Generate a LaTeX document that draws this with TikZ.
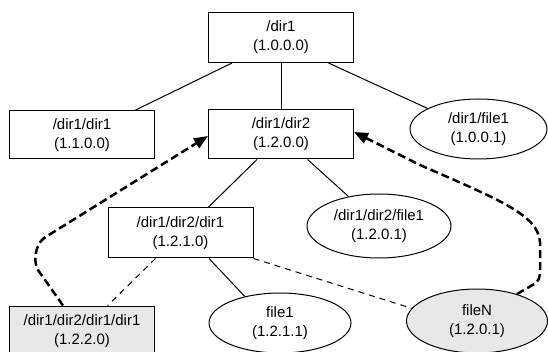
\documentclass[tikz,border=0pt]{standalone}
\usepackage{fontspec}
\setmainfont{Liberation Sans}
\usetikzlibrary{arrows.meta,shapes.geometric}
\definecolor{fillgray}{RGB}{232,232,232}
\begin{document}
\begin{tikzpicture}[x=1pt,y=-1pt,
  every node/.style={font=\fontsize{15}{19}\selectfont, align=center, inner sep=0pt, line width=1pt},
  dirbox/.style={draw, rectangle, minimum width=145pt, minimum height=#1},
  dirbox/.default=50pt,
  filell/.style 2 args={draw, ellipse, minimum width=#1, minimum height=#2},
  tree/.style={line width=1pt},
  link/.style={line width=1pt, dash pattern=on 6pt off 5pt},
  jump/.style={line width=2.5pt, dash pattern=on 8pt off 4pt, -{Triangle[length=14pt,width=11pt]}}
]
\useasboundingbox (0,0) rectangle (548,352);
\clip (0,0) rectangle (548,352);

\node[dirbox] (n1) at (281,37.5) {/dir1\\(1.0.0.0)};
\node[dirbox=48pt] (n11) at (82,135) {/dir1/dir1\\(1.1.0.0)};
\node[dirbox=49pt] (n12) at (281,134.5) {/dir1/dir2\\(1.2.0.0)};
\node[filell={137pt}{60pt}] (f1) at (478.5,129) {/dir1/file1\\(1.0.0.1)};
\node[dirbox] (n121) at (180.5,233) {/dir1/dir2/dir1\\(1.2.1.0)};
\node[filell={144pt}{64pt}] (f121) at (379,226) {/dir1/dir2/file1\\(1.2.0.1)};
\node[dirbox, fill=fillgray] (n122) at (82,331) {/dir1/dir2/dir1/dir1\\(1.2.2.0)};
\node[filell={142pt}{60pt}] (file1) at (280,323) {file1\\(1.2.1.1)};
\node[filell={141pt}{64pt}, fill=fillgray] (fileN) at (477,321) {fileN\\(1.2.0.1)};

\draw[tree] ([xshift=-49pt]n1.south) -- ([xshift=52.6pt]n11.north);
\draw[tree] (n1) -- (n12);
\draw[tree] ([xshift=47.5pt]n1.south) -- (f1.158);
\draw[tree] ([xshift=-24pt]n12.south) -- ([xshift=27.5pt]n121.north);
\draw[tree] ([xshift=26.6pt]n12.south) -- (f121.136);
\draw[tree] ([xshift=28.5pt]n121.south) -- (file1.143);
\draw[link] ([xshift=-25pt]n121.south) -- ([xshift=25.7pt]n122.north);
\draw[link] (n121.south east) -- (fileN.169);

\draw[jump] ([xshift=-19pt]n122.north) -- (38,270) .. controls (33,262) and (35,245) .. (44,238) -- ([yshift=-1.5pt]n12.west);
\draw[jump] (fileN.34) -- (536,283) .. controls (541,278) and (540,272) .. (540,262) -- (540,242) .. controls (538,215) and (500,200) .. (420,165) -- ([yshift=2.5pt]n12.east);
\end{tikzpicture}
\end{document}
